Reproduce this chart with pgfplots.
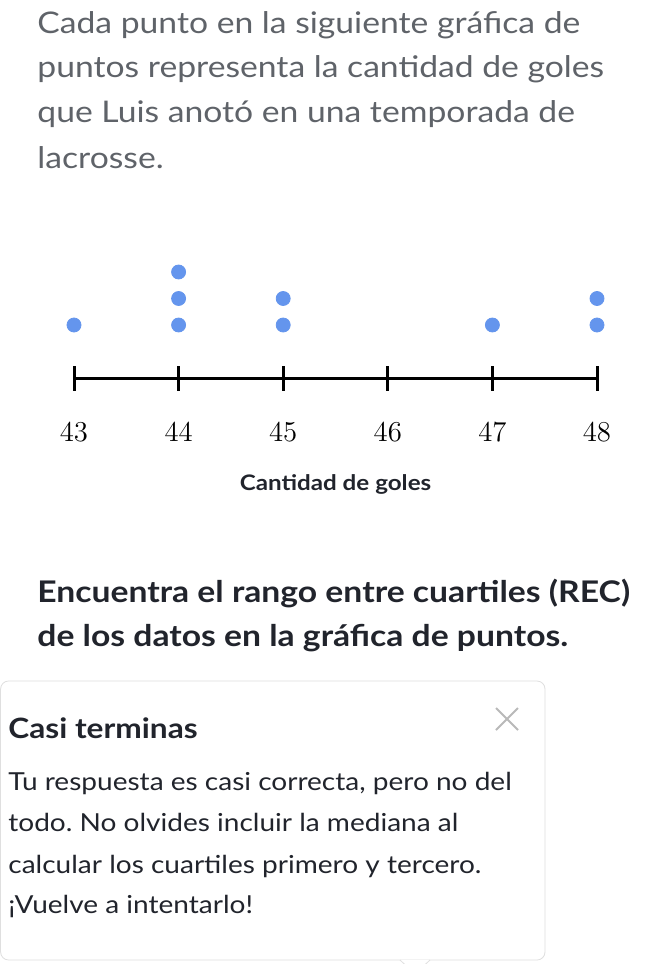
\documentclass[border=0pt]{standalone}
\usepackage{pgfplots}
\pgfplotsset{compat=1.18}
\usepackage{fontspec}
\setmainfont{Lato}[FakeStretch=1.13]
\frenchspacing
\definecolor{dotblue}{HTML}{6495ED}
\definecolor{leadgray}{HTML}{5F6369}
\definecolor{ink}{HTML}{21242C}
\begin{document}
\begin{tikzpicture}
\clip (0,0) rectangle (331pt,-482pt);
\fill[white] (0,0) rectangle (331pt,-482pt);
% intro paragraph
\begin{scope}[every node/.style={anchor=base west, inner sep=0pt, text=leadgray, font=\fontsize{14.9pt}{18pt}\selectfont}]
\node at (18.5pt,-16.5pt) {Cada punto en la siguiente gráfica de};
\node at (18.5pt,-38.9pt) {puntos representa la cantidad de goles};
\node at (18.5pt,-61.4pt) {que Luis anotó en una temporada de};
\node at (18.5pt,-84pt) {lacrosse.};
\end{scope}
% dot plot
\begin{axis}[
  at={(37pt,-189pt)}, anchor=south west,
  x=52.3pt, y=13.25pt,
  xmin=43, xmax=48, ymin=-1, ymax=3.5,
  hide y axis, axis x line*=bottom,
  xtick={43,44,45,46,47,48},
  tick align=center, major tick length=12.5pt,
  x axis line style={line width=1.5pt, black},
  every tick/.style={line width=1.5pt, black},
  xticklabel style={yshift=-12.5pt, font=\fontsize{14pt}{17pt}\selectfont},
  xlabel={\bfseries Cantidad de goles},
  xlabel style={at={(axis description cs:0.5,0)}, anchor=base, yshift=-56pt, inner sep=0pt,
    font=\fontsize{10.7pt}{13pt}\selectfont, text=ink},
  clip=false,
]
\addplot[only marks, mark=*, mark size=3.5pt, color=dotblue] coordinates {
  (43,1) (44,1) (44,2) (44,3) (45,1) (45,2) (47,1) (48,1) (48,2)
};
\end{axis}
% question
\begin{scope}[every node/.style={anchor=base west, inner sep=0pt, text=ink, font=\fontsize{14.9pt}{18pt}\selectfont\bfseries}]
\node at (18.5pt,-301pt) {Encuentra el rango entre cuartiles (REC)};
\node at (18.5pt,-323pt) {de los datos en la gráfica de puntos.};
\end{scope}
% feedback box
\draw[gray!25, fill=white, rounded corners=4pt] (0.3pt,-340.5pt) rectangle (272.5pt,-480pt);
\draw[gray!25, fill=white] (200pt,-480pt) -- (207.5pt,-487pt) -- (215pt,-480pt);
\draw[gray!55, line width=0.9pt] (248pt,-354pt) -- (259pt,-365pt) (248pt,-365pt) -- (259pt,-354pt);
\node[anchor=base west, inner sep=0pt, text=ink, font=\fontsize{14pt}{17pt}\selectfont\bfseries] at (4pt,-369pt) {Casi terminas};
\begin{scope}[every node/.style={anchor=base west, inner sep=0pt, text=ink, font=\fontsize{12.4pt}{15pt}\selectfont}]
\node at (4pt,-395pt) {Tu respuesta es casi correcta, pero no del};
\node at (4pt,-415.5pt) {todo. No olvides incluir la mediana al};
\node at (4pt,-436.5pt) {calcular los cuartiles primero y tercero.};
\node at (4pt,-456.5pt) {¡Vuelve a intentarlo!};
\end{scope}
\end{tikzpicture}
\end{document}
